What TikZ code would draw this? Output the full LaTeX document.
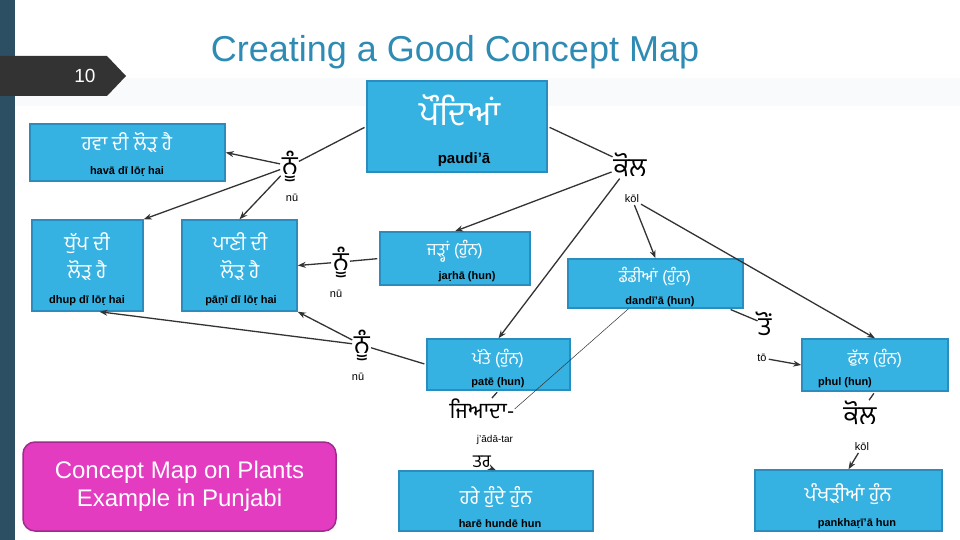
\documentclass[tikz,border=0pt]{standalone}
\usepackage{fontspec}
\setmainfont{Liberation Sans}
\newfontfamily\gur[Script=Gurmukhi]{Hind Jalandhar}
\usetikzlibrary{arrows.meta,calc}
\definecolor{boxfill}{HTML}{35B1E2}
\definecolor{boxline}{HTML}{2A8DBE}
\definecolor{linkc}{HTML}{333333}
\definecolor{titlec}{HTML}{2E8BB4}
\definecolor{barc}{HTML}{2D4F63}
\definecolor{bannerc}{HTML}{333333}
\definecolor{pinkfill}{HTML}{E43CC1}
\definecolor{pinkline}{HTML}{A02A8E}
\definecolor{bandc}{HTML}{F9FAFB}
\begin{document}
\begin{tikzpicture}[x=1pt,y=-1pt,
  cbox/.style={draw=boxline,fill=boxfill,line width=1.5pt,inner sep=0pt},
  gwL/.style={text=white,inner sep=0pt,align=center,font=\gur\fontsize{34}{40}\selectfont},
  gwM/.style={text=white,inner sep=0pt,align=center,font=\gur\fontsize{20}{28}\selectfont},
  gwS/.style={text=white,inner sep=0pt,align=center,font=\gur\fontsize{17}{22}\selectfont},
  trl/.style={text=black,inner sep=0pt,font=\bfseries\fontsize{11}{13}\selectfont},
  lk/.style={text=black,inner sep=0pt,font=\gur\fontsize{26}{30}\selectfont},
  lkt/.style={text=black,inner sep=0pt,font=\fontsize{11}{13}\selectfont},
  ln/.style={draw=linkc,line width=1.3pt,shorten <=2pt,shorten >=1pt},
  arr/.style={draw=linkc,line width=1.3pt,shorten <=2pt,-{Stealth[length=8pt,width=6pt]}},
  thin/.style={draw=linkc,line width=0.5pt}]
\useasboundingbox (0,0) rectangle (960,540);
\fill[white] (0,0) rectangle (960,540);
\fill[bandc] (15,78) rectangle (960,106);
\fill[barc] (0,0) rectangle (15,540);
% page number banner
\fill[bannerc] (0,56) -- (107,56) -- (126,76) -- (107,96) -- (0,96) -- cycle;
\node[text=white,font=\fontsize{19}{22}\selectfont] (pagenum) at (85,76) {10};
% title
\node[text=titlec,font=\fontsize{36}{40}\selectfont] (title) at (455,52) {Creating a Good Concept Map};

% concept boxes
\node[cbox,minimum width=180pt,minimum height=91pt] (plants) at (457,126.5) {};
\node[cbox,minimum width=195pt,minimum height=57pt] (air) at (127.5,152.5) {};
\node[cbox,minimum width=111pt,minimum height=91pt] (sun) at (87.5,265.5) {};
\node[cbox,minimum width=115pt,minimum height=91pt] (water) at (239.5,265.5) {};
\node[cbox,minimum width=150pt,minimum height=53pt] (roots) at (455,258.5) {};
\node[cbox,minimum width=175pt,minimum height=49pt] (stems) at (655.5,283.5) {};
\node[cbox,minimum width=143pt,minimum height=51pt] (leaves) at (498.5,364.5) {};
\node[cbox,minimum width=146pt,minimum height=52pt] (flowers) at (875,365) {};
\node[cbox,minimum width=194pt,minimum height=60pt] (green) at (496,501) {};
\node[cbox,minimum width=187pt,minimum height=61pt] (petals) at (848.5,500.5) {};

% Gurmukhi text in boxes
\node[gwL] (plantsG) at (460,110) {ਪੌਦਿਆਂ};
\node[gwM] (airG) at (127,142) {ਹਵਾ ਦੀ ਲੋੜ ਹੈ};
\node[gwM] (sunG) at (87,256) {ਧੁੱਪ ਦੀ\\ਲੋੜ ਹੈ};
\node[gwM] (waterG) at (240,256) {ਪਾਣੀ ਦੀ\\ਲੋੜ ਹੈ};
\node[gwS] (rootsG) at (455,251) {ਜੜ੍ਹਾਂ (ਹੁੰਨ)};
\node[gwS] (stemsG) at (655,276) {ਡੰਡੀਆਂ (ਹੁੰਨ)};
\node[gwS] (leavesG) at (498,358) {ਪੱਤੇ (ਹੁੰਨ)};
\node[gwS] (flowersG) at (875,358) {ਫੁੱਲ (ਹੁੰਨ)};
\node[gwM] (greenG) at (496,497) {ਹਰੇ ਹੁੰਦੇ ਹੁੰਨ};
\node[gwM] (petalsG) at (848,494) {ਪੰਖੜੀਆਂ ਹੁੰਨ};

% transliterations
\node[trl,font=\bfseries\fontsize{15}{17}\selectfont] (plantsT) at (464,160) {paudi'ā};
\node[trl] (airT) at (127,171) {havā dī lōṛ hai};
\node[trl] (sunT) at (87,301) {dhup dī lōṛ hai};
\node[trl] (waterT) at (241,301) {pāṇī dī lōṛ hai};
\node[trl] (rootsT) at (467,277) {jaṛhā (hun)};
\node[trl] (stemsT) at (660,302) {dandī'ā (hun)};
\node[trl] (leavesT) at (498,383) {patē (hun)};
\node[trl] (flowersT) at (845,383) {phul (hun)};
\node[trl] (greenT) at (500,524) {harē hundē hun};
\node[trl] (petalsT) at (857,524) {pankhaṛī'ā hun};

% linking words
\node[lk] (L1) at (290,166) {ਨੂੰ};
\node[lkt] (L1t) at (292,198) {nū};
\node[lk] (L2) at (630,165) {ਕੋਲ};
\node[lkt] (L2t) at (632,199) {kōl};
\node[lk] (L3) at (341,262) {ਨੂੰ};
\node[lkt] (L3t) at (336,294) {nū};
\node[lk] (L4) at (362,345) {ਨੂੰ};
\node[lkt] (L4t) at (358,377) {nū};
\node[lk] (L5) at (765,324) {ਤੋਂ};
\node[lkt] (L5t) at (762,358) {tō};
\node[lk,font=\gur\fontsize{22}{26}\selectfont] (L6) at (482,409) {ਜਿਆਦਾ-};
\node[lkt,font=\fontsize{10}{12}\selectfont] (L6t) at (495,440) {j'ādā-tar};
\node[lk,font=\gur\fontsize{18}{22}\selectfont] (L6b) at (482,462) {ਤਰ};
\node[lk] (L7) at (860,413) {ਕੋਲ};
\node[lkt] (L7t) at (862,447) {kōl};

% connectors
\draw[ln] (plants.west) -- (L1);
\draw[arr] (L1) -- (air.east);
\draw[arr] (L1) -- (sun.north east);
\draw[arr] (L1) -- (water.north);
\draw[ln] (roots.west) -- (L3);
\draw[arr] (L3) -- (water.east);
\draw[ln] (leaves.west) -- (L4);
\draw[arr] (L4) -- (water.south east);
\draw[arr] (L4) -- ([xshift=12pt]sun.south);
\draw[ln] (plants.east) -- (L2);
\draw[arr] (L2) -- (roots.north);
\draw[arr] (L2) -- (leaves.north);
\draw[arr] (L2t) -- (stems.north);
\draw[arr] (L2t) -- (flowers.north);
\draw[ln] ([xshift=-15pt]stems.south east) -- (L5);
\draw[arr] (L5t) -- (flowers.west);
\draw[ln] (leaves.south) -- (L6);
\draw[thin] ([xshift=-27pt]stems.south) -- (L6.east);
\draw[arr,shorten <=0pt] (L6b.south east) -- (green.north);
\draw[ln] (flowers.south) -- (L7);
\draw[arr] (L7t) -- (petals.north);

% caption box
\node[draw=pinkline,fill=pinkfill,line width=1.5pt,rounded corners=12pt,
  minimum width=313pt,minimum height=89pt,text=white,align=center,
  font=\fontsize{24}{28}\selectfont] (caption) at (179.5,486.5)
  {Concept Map on Plants\\Example in Punjabi};
\end{tikzpicture}
\end{document}
